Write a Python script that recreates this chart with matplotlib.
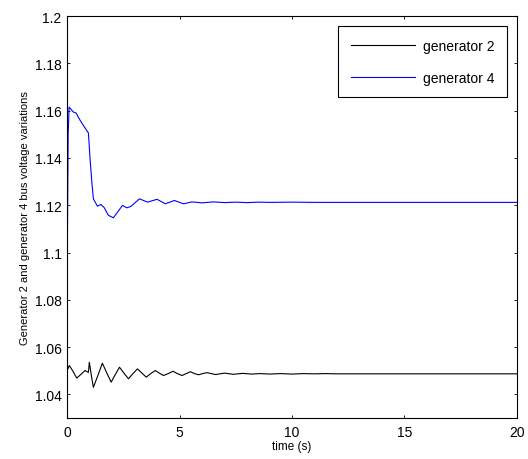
import numpy as np
import matplotlib.pyplot as plt

plt.rcParams['font.family'] = ['Liberation Sans', 'DejaVu Sans']

# generator 2 bus voltage
t_g2 = [0.0, 0.1, 0.25, 0.43, 0.62, 0.8, 0.95, 0.99, 1.08, 1.17, 1.37, 1.57, 1.77, 1.96,
        2.15, 2.33, 2.53, 2.73, 2.93, 3.13, 3.33, 3.52, 3.72, 3.92, 4.1, 4.29, 4.5, 4.71,
        4.9, 5.11, 5.3, 5.48, 5.67, 5.85, 6.03, 6.22, 6.6, 7.0, 7.4, 7.8, 8.2, 8.6, 9.0,
        9.5, 10.0, 10.5, 11.0, 11.5, 12.0, 12.5, 20.0]
v_g2 = [1.0500, 1.0522, 1.0500, 1.0469, 1.0485, 1.0501, 1.0493, 1.0536, 1.0480, 1.0430,
        1.0480, 1.0532, 1.0490, 1.0452, 1.0485, 1.0515, 1.0490, 1.0466, 1.0488, 1.0508,
        1.0490, 1.0473, 1.0488, 1.0501, 1.0490, 1.0480, 1.0488, 1.0498, 1.0488, 1.0480,
        1.0488, 1.0496, 1.0488, 1.0483, 1.0488, 1.0492, 1.0484, 1.0490, 1.0485, 1.0489,
        1.0486, 1.0488, 1.0486, 1.0488, 1.0486, 1.0488, 1.0487, 1.0488, 1.0487, 1.0487,
        1.0487]

# generator 4 bus voltage
t_g4 = [0.0, 0.05, 0.09, 0.28, 0.40, 0.58, 0.73, 0.95, 1.02, 1.10, 1.17, 1.35, 1.5, 1.65,
        1.84, 2.06, 2.24, 2.46, 2.66, 2.84, 3.22, 3.58, 4.0, 4.37, 4.77, 5.18, 5.55, 6.0,
        6.5, 7.0, 7.5, 8.0, 8.5, 9.0, 10.0, 11.0, 12.0, 20.0]
v_g4 = [1.0850, 1.1500, 1.1615, 1.1594, 1.1590, 1.1559, 1.1537, 1.1505, 1.1400, 1.1300,
        1.1227, 1.1196, 1.1203, 1.1190, 1.1157, 1.1147, 1.1170, 1.1199, 1.1189, 1.1195,
        1.1227, 1.1213, 1.1225, 1.1206, 1.1220, 1.1206, 1.1214, 1.1210, 1.1214, 1.1211,
        1.1213, 1.1211, 1.1213, 1.1212, 1.1213, 1.1212, 1.1212, 1.1212]

fig = plt.figure(figsize=(5.28, 4.6), dpi=100)
ax = fig.add_axes([0.127, 0.089, 0.852, 0.874])

ax.plot(t_g2, v_g2, color='black', lw=0.8, label='generator 2')
ax.plot(t_g4, v_g4, color='blue', lw=0.8, label='generator 4')

ax.set_xlim(0, 20)
ax.set_ylim(1.03, 1.2)
ax.set_xticks([0, 5, 10, 15, 20])
ax.set_yticks(np.arange(1.04, 1.2001, 0.02))
ax.set_yticklabels(['1.04', '1.06', '1.08', '1.1', '1.12', '1.14', '1.16', '1.18', '1.2'])
ax.tick_params(direction='in', top=True, right=True, labelsize=10, length=2.5, width=0.6)
ax.tick_params(axis='x', pad=5)
ax.tick_params(axis='y', pad=4)
for s in ax.spines.values():
    s.set_linewidth(0.8)

ax.set_xlabel('time (s)', fontsize=8.5, labelpad=1)
ax.set_ylabel('Generator 2 and generator 4 bus voltage variations', fontsize=8, labelpad=3)

leg = ax.legend(loc='upper right', bbox_to_anchor=(0.978, 0.975), fontsize=10,
                fancybox=False, edgecolor='black', framealpha=1,
                handlelength=4.6, handletextpad=0.6, borderpad=0.9, labelspacing=1.3,
                borderaxespad=0)
leg.get_frame().set_linewidth(0.8)

fig.savefig('out.png', dpi=100)
